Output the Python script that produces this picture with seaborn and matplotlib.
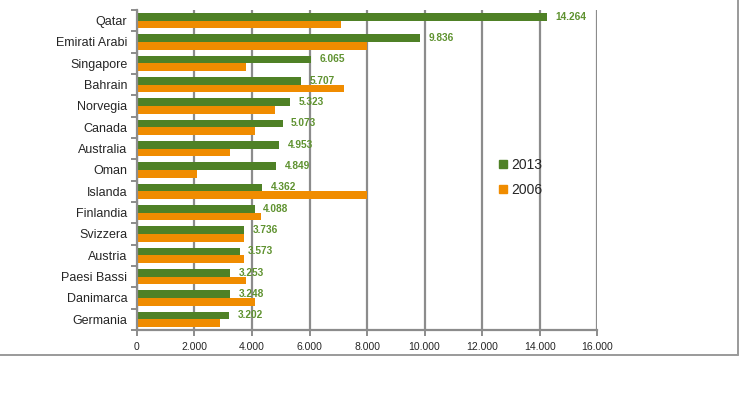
import pandas as pd
import matplotlib
matplotlib.use('Agg')
import matplotlib.pyplot as plt
from matplotlib.lines import Line2D
from matplotlib.ticker import FuncFormatter, FixedLocator
import seaborn as sns

sns.set_style('white')
plt.rcParams['font.family'] = ['Liberation Sans', 'DejaVu Sans']

# ---- Data ----
countries = ['Qatar', 'Emirati Arabi', 'Singapore', 'Bahrain', 'Norvegia', 'Canada',
             'Australia', 'Oman', 'Islanda', 'Finlandia', 'Svizzera', 'Austria',
             'Paesi Bassi', 'Danimarca', 'Germania']
values_2013 = [14264, 9836, 6065, 5707, 5323, 5073, 4953, 4849, 4362, 4088,
               3736, 3573, 3253, 3248, 3202]
values_2006 = [7100, 8000, 3800, 7200, 4800, 4100, 3250, 2100, 8000, 4300,
               3740, 3740, 3800, 4100, 2900]
years = ['2013', '2006']
colors = ['#4f8126', '#f08c00']

df = pd.DataFrame({
    'country': countries * 2,
    'year': [years[0]] * len(countries) + [years[1]] * len(countries),
    'value': values_2013 + values_2006,
})


def dot_thousands(v):
    return f'{v:,.0f}'.replace(',', '.')


fig = plt.figure(figsize=(7.4, 3.96), dpi=100)
ax = fig.add_axes([0.185, 0.167, 0.622, 0.808])

sns.barplot(data=df, y='country', x='value', hue='year', hue_order=years,
            palette=colors, orient='h', width=0.72, gap=0, saturation=1,
            errorbar=None, linewidth=0, ax=ax)

# ---- Axes styling ----
grid_color = '#8c8c8c'
ax.set_xlim(0, 16000)
ax.set_ylim(len(countries) - 0.5, -0.5)
ax.xaxis.set_major_locator(FixedLocator(range(0, 16001, 2000)))
ax.xaxis.set_major_formatter(FuncFormatter(lambda v, p: dot_thousands(v)))
ax.grid(axis='x', color=grid_color, linewidth=1.6)
ax.set_axisbelow(True)
ax.set_xlabel('')
ax.set_ylabel('')

for side in ['top', 'right']:
    ax.spines[side].set_visible(False)
for side in ['left', 'bottom']:
    ax.spines[side].set_color(grid_color)
    ax.spines[side].set_linewidth(1.6)

ax.tick_params(axis='x', direction='out', length=4, width=1.4, color=grid_color,
               labelsize=7.5, pad=5, bottom=True)
ax.tick_params(axis='y', which='major', length=0, labelsize=9, pad=7)
ax.yaxis.set_minor_locator(FixedLocator([i - 0.5 for i in range(len(countries) + 1)]))
ax.tick_params(axis='y', which='minor', direction='out', length=4, width=1.4,
               color=grid_color, left=True)

# ---- Data labels on 2013 bars ----
ax.bar_label(ax.containers[0], labels=[dot_thousands(v) for v in values_2013],
             padding=6, color='#5f9230', fontsize=7.3, fontweight='bold')

# ---- Legend ----
handles = [Line2D([], [], marker='s', linestyle='', markersize=5.5,
                  markerfacecolor=c, markeredgecolor=c) for c in colors]
fig.legend(handles, years, loc='center left', bbox_to_anchor=(0.665, 0.552),
           frameon=False, fontsize=10, handlelength=0.6, handletextpad=0.25,
           labelspacing=0.75, borderpad=0)
if ax.get_legend() is not None:
    ax.get_legend().remove()

# ---- Outer frame (right and bottom edges) ----
frame_y = 1 - 355 / 396
frame_x = 738 / 740
fig.add_artist(Line2D([0, frame_x], [frame_y, frame_y], color='#9a9a9a',
                      linewidth=1.4, transform=fig.transFigure))
fig.add_artist(Line2D([frame_x, frame_x], [frame_y, 1], color='#9a9a9a',
                      linewidth=1.4, transform=fig.transFigure))

fig.savefig('out.png', dpi=100)
